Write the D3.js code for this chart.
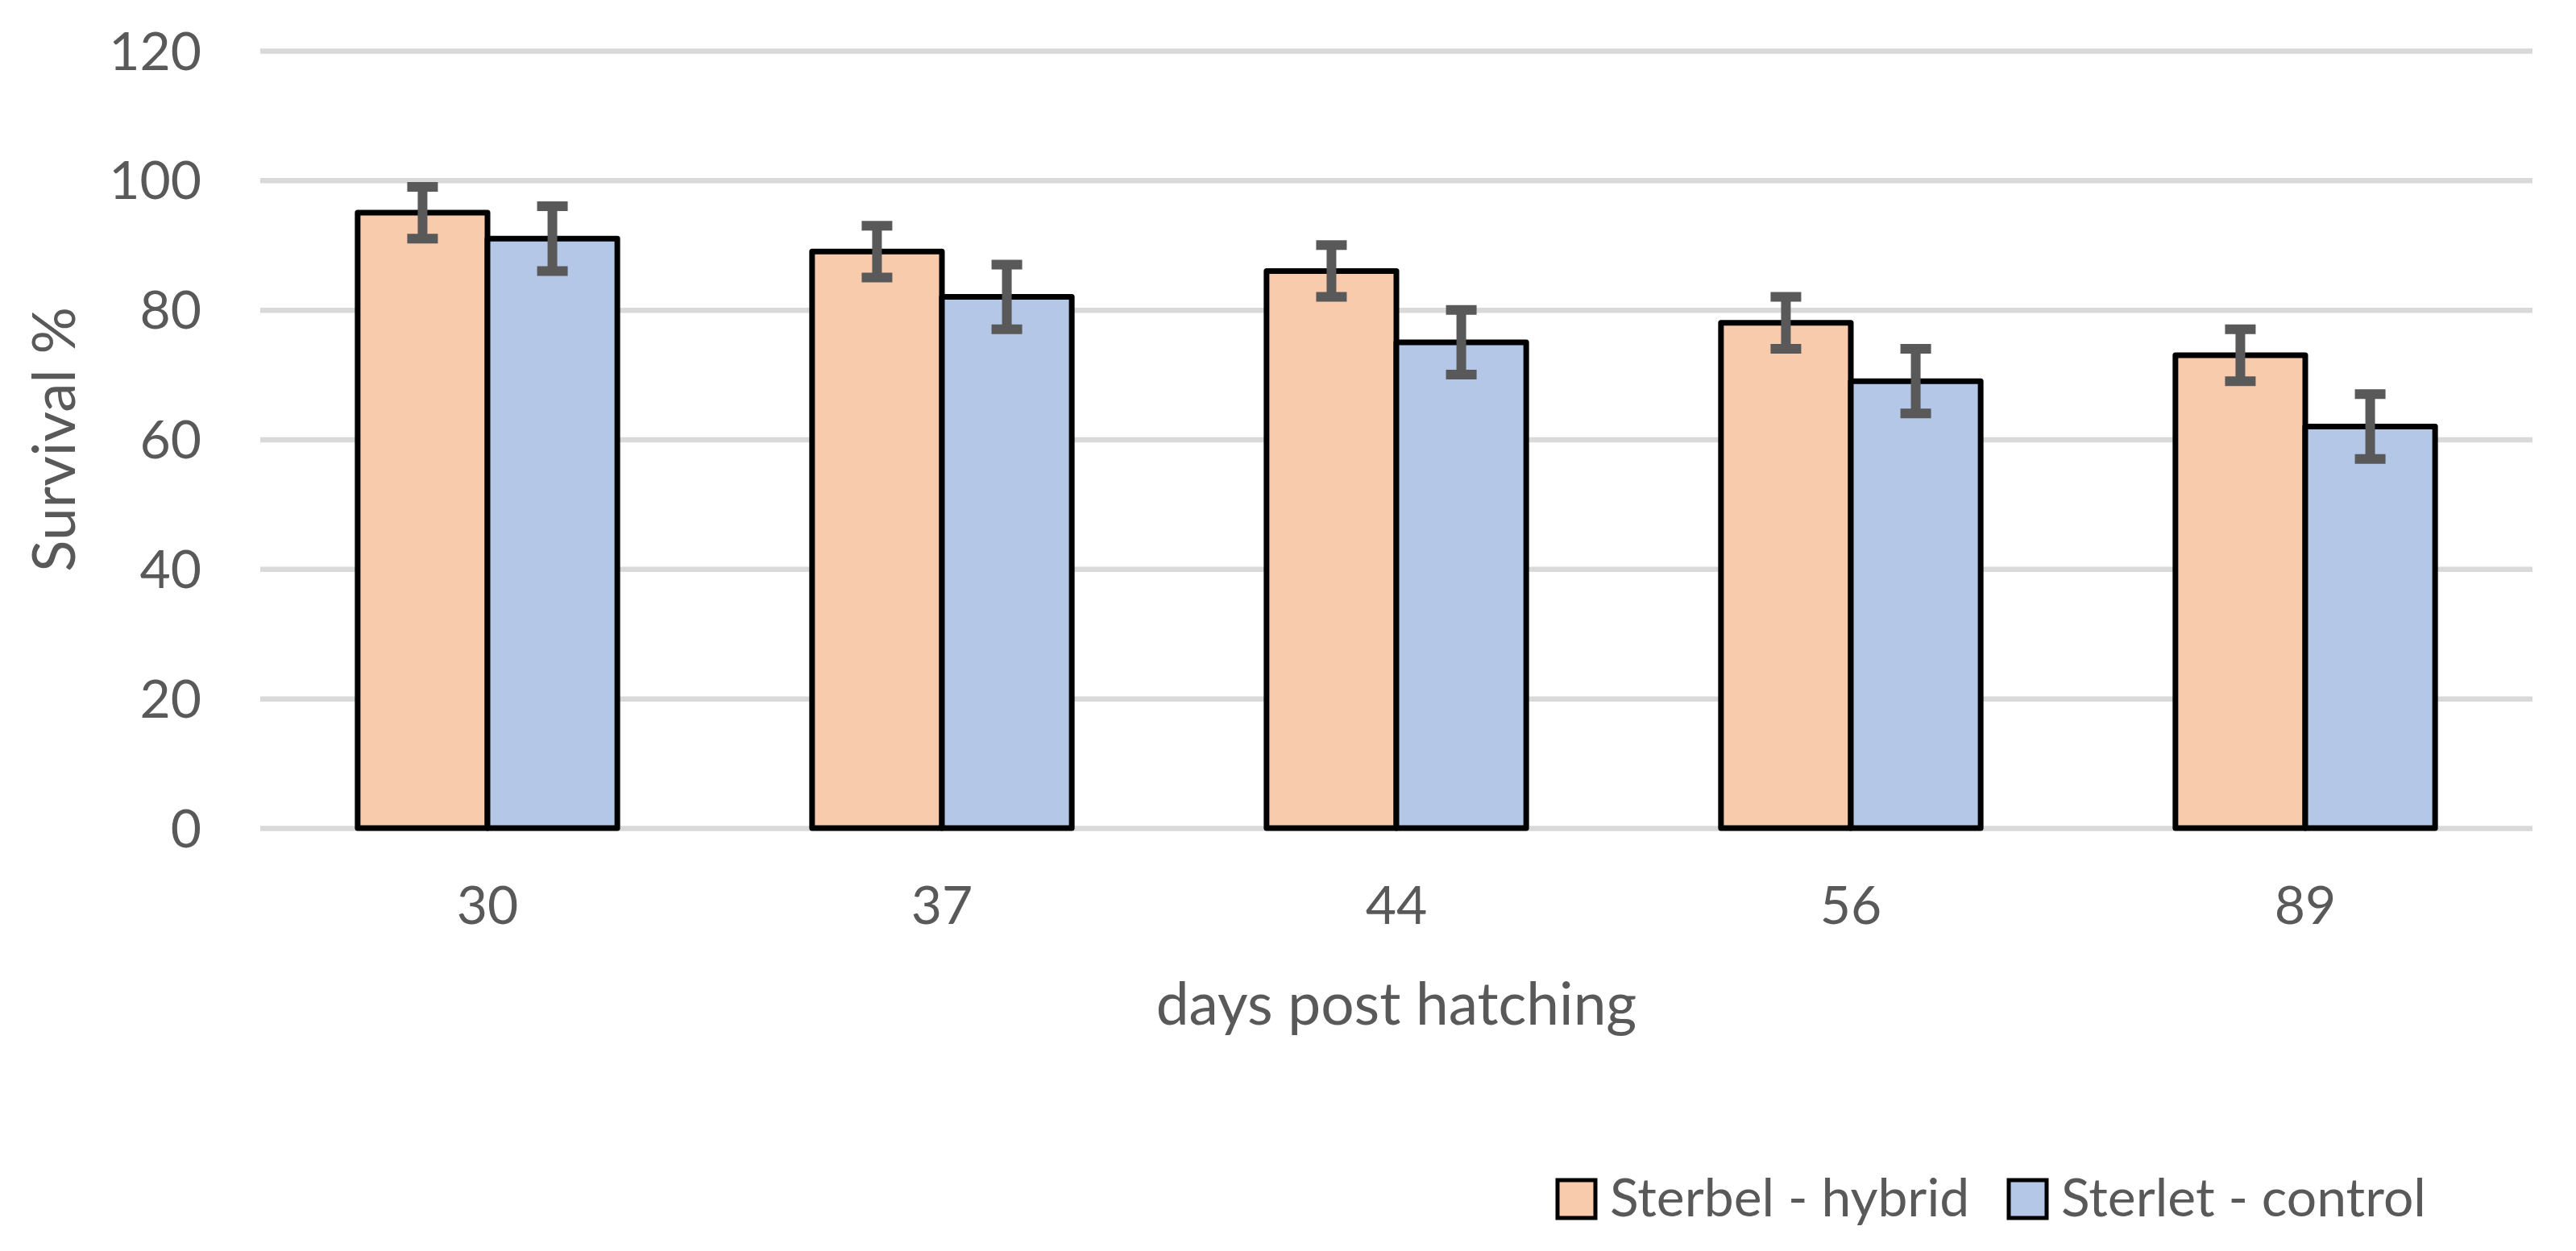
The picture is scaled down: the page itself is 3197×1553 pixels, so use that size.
<!DOCTYPE html>
<html>
<head>
<meta charset="utf-8">
<script src="https://cdn.jsdelivr.net/npm/d3@7"></script>
<style>
  body { margin: 0; background: #fff; }
  text { font-family: Lato, "Noto Sans", sans-serif; fill: #595959; }
</style>
</head>
<body>
<svg id="chart"></svg>
<script>
// chart data
var days = ["30", "37", "44", "56", "89"];
var seriesNames = ["Sterbel - hybrid", "Sterlet - control"];
var hybrid = [95, 89, 86, 78, 73];
var hybridErr = [4, 4, 4, 4, 4];
var control = [91, 82, 75, 69, 62];
var controlErr = [5, 5, 5, 5, 5];
var yTicks = [0, 20, 40, 60, 80, 100, 120];

var colors = ["#F8CBAD", "#B4C7E7"];

var W = 3197, H = 1553;
var margin = {top: 63, left: 323, right: 54, bottom: 525};
var plotW = W - margin.left - margin.right;

var svg = d3.select("#chart").attr("width", W).attr("height", H);

// build rows the way the grouped bar layout wants them
var rows = days.map(function(d, i) {
  return {
    day: d,
    vals: [
      {key: seriesNames[0], value: hybrid[i], err: hybridErr[i], c: 0},
      {key: seriesNames[1], value: control[i], err: controlErr[i], c: 1}
    ]
  };
});

var x = d3.scaleBand()
  .domain(days)
  .range([margin.left, W - margin.right])
  .paddingInner(0).paddingOuter(0);

var x1 = d3.scaleBand()
  .domain(seriesNames)
  .range([0, x.bandwidth()])
  .paddingInner(0).paddingOuter(0.75);

var y = d3.scaleLinear()
  .domain([0, 120])
  .range([H - margin.bottom, margin.top]);

// y axis + gridlines
var yAxis = svg.append("g")
  .attr("transform", "translate(" + margin.left + ",0)")
  .call(d3.axisLeft(y).tickValues(yTicks).tickSize(-plotW).tickPadding(73));
yAxis.select(".domain").remove();
yAxis.selectAll("line").attr("stroke", "#D9D9D9").attr("stroke-width", 6.5);
yAxis.selectAll("text")
  .style("font-size", "66px")
  .style("font-family", "Lato, 'Noto Sans', sans-serif")
  .attr("fill", "#595959")
  .attr("dy", "0.35em");

// x axis labels
var xAxis = svg.append("g")
  .attr("transform", "translate(0," + (H - margin.bottom) + ")")
  .call(d3.axisBottom(x).tickSize(0).tickPadding(72));
xAxis.select(".domain").remove();
xAxis.selectAll("text")
  .style("font-size", "66px")
  .style("font-family", "Lato, 'Noto Sans', sans-serif")
  .attr("fill", "#595959");

// bars
var groups = svg.selectAll("g.grp")
  .data(rows)
  .enter().append("g")
  .attr("class", "grp")
  .attr("transform", function(d) { return "translate(" + x(d.day) + ",0)"; });

groups.selectAll("rect")
  .data(function(d) { return d.vals; })
  .enter().append("rect")
  .attr("x", function(d) { return x1(d.key); })
  .attr("y", function(d) { return y(d.value); })
  .attr("width", x1.bandwidth())
  .attr("height", function(d) { return y(0) - y(d.value); })
  .attr("fill", function(d) { return colors[d.c]; })
  .attr("stroke", "#000")
  .attr("stroke-width", 7)
  .attr("stroke-linejoin", "round");

// error bars
var capW = 38;
var eb = groups.selectAll("g.err")
  .data(function(d) { return d.vals; })
  .enter().append("g")
  .attr("class", "err")
  .attr("stroke", "#595959")
  .attr("stroke-width", 12);

eb.append("line")
  .attr("x1", function(d) { return x1(d.key) + x1.bandwidth() / 2; })
  .attr("x2", function(d) { return x1(d.key) + x1.bandwidth() / 2; })
  .attr("y1", function(d) { return y(d.value + d.err); })
  .attr("y2", function(d) { return y(d.value - d.err); });

eb.append("line")
  .attr("x1", function(d) { return x1(d.key) + x1.bandwidth() / 2 - capW / 2; })
  .attr("x2", function(d) { return x1(d.key) + x1.bandwidth() / 2 + capW / 2; })
  .attr("y1", function(d) { return y(d.value + d.err); })
  .attr("y2", function(d) { return y(d.value + d.err); });

eb.append("line")
  .attr("x1", function(d) { return x1(d.key) + x1.bandwidth() / 2 - capW / 2; })
  .attr("x2", function(d) { return x1(d.key) + x1.bandwidth() / 2 + capW / 2; })
  .attr("y1", function(d) { return y(d.value - d.err); })
  .attr("y2", function(d) { return y(d.value - d.err); });

// axis titles
svg.append("text")
  .attr("transform", "translate(93," + ((y(0) + y(120)) / 2) + ") rotate(-90)")
  .attr("text-anchor", "middle")
  .style("font-size", "73px")
  .text("Survival %");

svg.append("text")
  .attr("x", margin.left + plotW / 2)
  .attr("y", 1272)
  .attr("text-anchor", "middle")
  .style("font-size", "73px")
  .text("days post hatching");

// legend
var legendX = [1933, 2493];
var legend = svg.selectAll(".legend")
  .data(seriesNames)
  .enter().append("g")
  .attr("class", "legend")
  .attr("transform", function(d, i) { return "translate(" + legendX[i] + ",1465)"; });

legend.append("rect")
  .attr("width", 47)
  .attr("height", 47)
  .attr("fill", function(d, i) { return colors[i]; })
  .attr("stroke", "#000")
  .attr("stroke-width", 5);

legend.append("text")
  .attr("x", 65)
  .attr("y", 45)
  .style("font-size", "66px")
  .text(function(d) { return d; });
</script>
</body>
</html>
